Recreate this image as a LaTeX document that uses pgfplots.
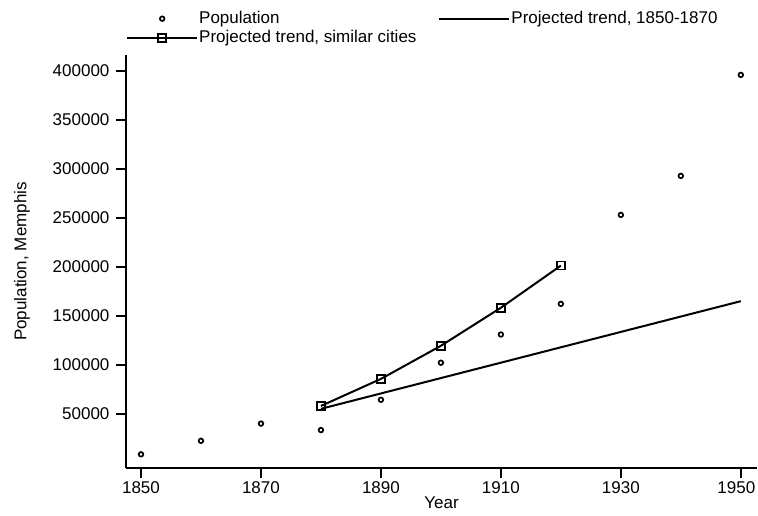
\documentclass[border=0pt]{standalone}
\usepackage{fontspec}
\setmainfont{Liberation Sans}
\usepackage{pgfplots}
\pgfplotsset{compat=1.18}

\newcommand{\chartfont}{\fontsize{17}{20}\selectfont}

\begin{document}
\begin{tikzpicture}
  \begin{axis}[
      scale only axis,
      width=631pt, height=413pt,
      xmin=1847.5, xmax=1952.7,
      ymin=-5100, ymax=416300,
      axis lines=left,
      axis line style={line width=2pt, -},
      xtick={1850,1870,...,1950},
      xticklabels={1850,1870,1890,1910,1930,1950\hspace*{9pt}},
      ytick={50000,100000,...,400000},
      scaled y ticks=false,
      tick align=outside,
      major tick length=10pt,
      tick style={line width=2pt, black},
      /pgf/number format/fixed,
      /pgf/number format/1000 sep={},
      /pgf/number format/assume math mode=true,
      ticklabel style={font=\chartfont},
      yticklabel style={xshift=-3pt},
      label style={font=\chartfont},
      xlabel={Year},
      ylabel={Population, Memphis},
      xlabel style={yshift=4pt},
      ylabel style={yshift=16pt},
      legend columns=2,
      legend style={draw=none, fill=none, inner sep=0pt, font=\chartfont,
        at={(rel axis cs:0,1)}, anchor=north west, yshift=45pt,
        nodes={inner sep=1pt, text height=12pt, text depth=3pt},
        /tikz/every even column/.append style={column sep=21pt},
        row sep=2pt},
      legend cell align=left,
      legend image code/.code={%
        \draw[mark repeat=2,mark phase=2,#1]
          plot coordinates {(0pt,0pt) (35pt,0pt) (70pt,0pt)};},
      every axis plot/.append style={line width=2pt, black},
    ]
    \addplot[only marks, mark=o, mark size=2.3pt, mark options={line width=1.7pt}]
      coordinates {(1850,8841) (1860,22623) (1870,40226) (1880,33592)
        (1890,64495) (1900,102320) (1910,131105) (1920,162351)
        (1930,253143) (1940,292942) (1950,396000)};
    \addlegendentry{Population}

    \addplot[mark=none]
      coordinates {(1880,55277) (1890,70969) (1900,86662) (1910,102354)
        (1920,118047) (1930,133739) (1940,149432) (1950,165124)};
    \addlegendentry{Projected trend, 1850-1870}

    \addplot[mark=square, mark size=4pt, mark options={line width=1.7pt}]
      coordinates {(1880,58200) (1890,85800) (1900,119600)
        (1910,158400) (1920,201400)};
    \addlegendentry{Projected trend, similar cities}

    \coordinate (o) at (rel axis cs:0,0);
  \end{axis}
  \pgfresetboundingbox
  \path (o) ++(-126pt,-48pt) rectangle ++(758pt,516pt);
\end{tikzpicture}
\end{document}
